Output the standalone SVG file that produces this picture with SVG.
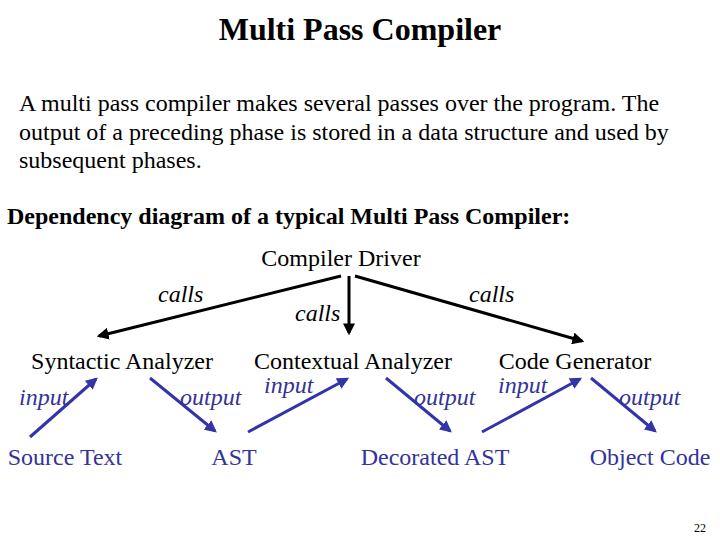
<svg xmlns="http://www.w3.org/2000/svg" width="720" height="540" viewBox="0 0 720 540">
<style>
text{font-family:"Liberation Serif","Times New Roman",serif;fill:#000}
.n{font-size:24px}
.b{fill:#333399}
.i{font-style:italic;font-size:24px}
.k{stroke:#000;stroke-width:3;fill:none}
.bl{stroke:#3333aa;stroke-width:3;fill:none}
</style>
<defs>
<marker id="ak" viewBox="0 0 10 10" refX="8" refY="5" markerWidth="4" markerHeight="4" orient="auto" markerUnits="strokeWidth"><path d="M0,0L10,5L0,10z" fill="#000"/></marker>
<marker id="ab" viewBox="0 0 10 10" refX="8" refY="5" markerWidth="4" markerHeight="4" orient="auto" markerUnits="strokeWidth"><path d="M0,0L10,5L0,10z" fill="#3333aa"/></marker>
</defs>
<rect width="720" height="540" fill="#fff"/>
<text x="360" y="40" text-anchor="middle" font-size="32" font-weight="bold">Multi Pass Compiler</text>
<text x="19" y="111" font-size="24">A multi pass compiler makes several passes over the program. The</text>
<text x="19" y="140" font-size="24">output of a preceding phase is stored in a data structure and used by</text>
<text x="19" y="168" font-size="24">subsequent phases.</text>
<text x="7" y="224" font-size="24" font-weight="bold">Dependency diagram of a typical Multi Pass Compiler:</text>
<g id="connectors">
<line class="k" x1="341" y1="276" x2="99" y2="336" marker-end="url(#ak)"/>
<line class="k" x1="349" y1="276" x2="349" y2="333" stroke-width="2" marker-end="url(#ak)"/>
<line class="k" x1="355" y1="276" x2="582" y2="341" marker-end="url(#ak)"/>
<line class="bl" x1="30" y1="437" x2="96" y2="379" marker-end="url(#ab)"/>
<line class="bl" x1="150" y1="378" x2="215" y2="431" marker-end="url(#ab)"/>
<line class="bl" x1="248" y1="432" x2="347" y2="379" marker-end="url(#ab)"/>
<line class="bl" x1="386" y1="378" x2="450" y2="431" marker-end="url(#ab)"/>
<line class="bl" x1="482" y1="432" x2="580" y2="379" marker-end="url(#ab)"/>
<line class="bl" x1="591" y1="378" x2="655" y2="431" marker-end="url(#ab)"/>
<text class="i" x="158" y="302">calls</text>
<text class="i" x="295" y="321">calls</text>
<text class="i" x="469" y="302">calls</text>
<text class="i b" x="19" y="405">input</text>
<text class="i b" x="180" y="405">output</text>
<text class="i b" x="264" y="393">input</text>
<text class="i b" x="414" y="405">output</text>
<text class="i b" x="498" y="393">input</text>
<text class="i b" x="619" y="405">output</text>
</g>
<g id="driver"><text class="n" x="341" y="266" text-anchor="middle">Compiler Driver</text></g>
<g id="syntactic"><text class="n" x="122" y="369" text-anchor="middle">Syntactic Analyzer</text></g>
<g id="contextual"><text class="n" x="353" y="369" text-anchor="middle">Contextual Analyzer</text></g>
<g id="codegen"><text class="n" x="575" y="369" text-anchor="middle">Code Generator</text></g>
<g id="source"><text class="n b" x="65" y="465" text-anchor="middle">Source Text</text></g>
<g id="ast"><text class="n b" x="234" y="465" text-anchor="middle">AST</text></g>
<g id="dast"><text class="n b" x="435" y="465" text-anchor="middle">Decorated AST</text></g>
<g id="obj"><text class="n b" x="650" y="465" text-anchor="middle">Object Code</text></g>
<text x="700" y="532" font-size="12" text-anchor="middle">22</text>
</svg>
